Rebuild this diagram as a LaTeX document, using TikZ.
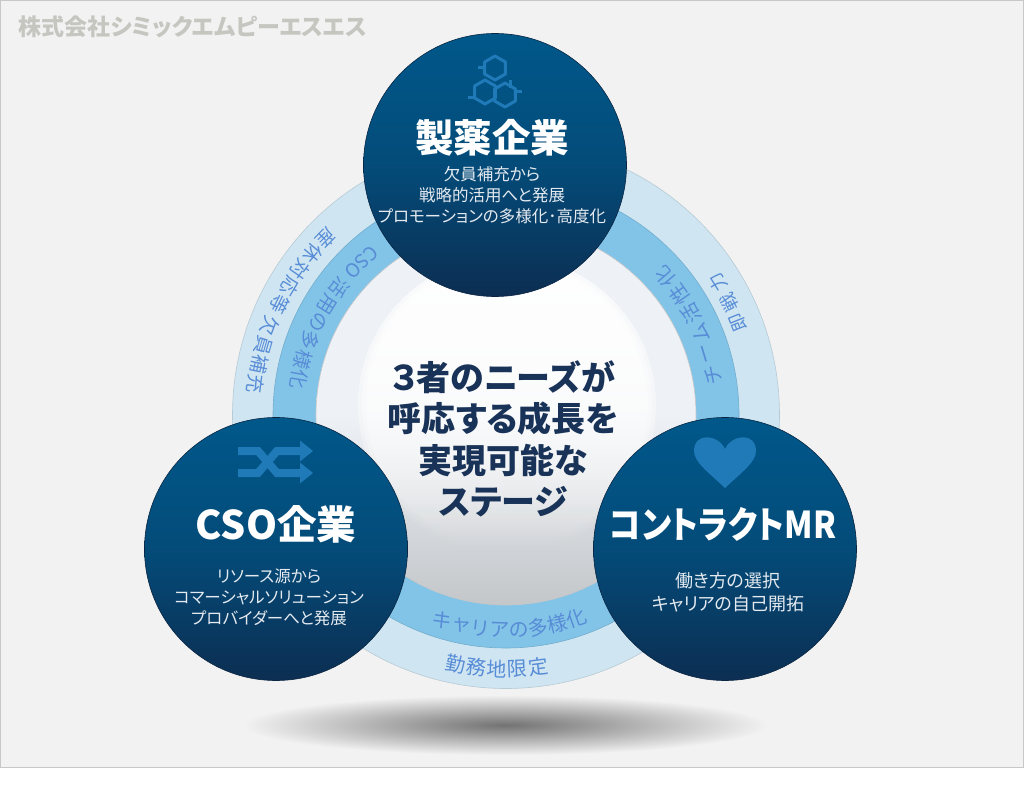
\documentclass[tikz,border=0pt]{standalone}
\usepackage{fontspec}
\usetikzlibrary{positioning}
\usetikzlibrary{arrows.meta}
\usetikzlibrary{fadings}
\newfontfamily\jpfont[RawFeature=+palt]{Noto Sans CJK JP}
\newfontfamily\ringfont{Noto Sans CJK JP}
\definecolor{pagebg}{RGB}{242,242,242}
\definecolor{pageline}{RGB}{200,200,200}
\definecolor{logogray}{RGB}{198,198,193}
\definecolor{ringouter}{RGB}{207,230,242}
\definecolor{ringmid}{RGB}{130,196,232}
\definecolor{ringtext}{RGB}{88,140,214}
\definecolor{disctop}{RGB}{0,88,138}
\definecolor{discbottom}{RGB}{12,46,82}
\definecolor{iconblue}{RGB}{32,122,184}
\definecolor{navy}{RGB}{24,50,88}
\definecolor{bodytext}{RGB}{228,234,240}
\definecolor{spheretop}{RGB}{238,241,245}
\definecolor{spherebottom}{RGB}{196,199,202}
\tikzfading[name=glowdown, top color=transparent!0, middle color=transparent!0, bottom color=transparent!100]
\newcommand{\ringword}[6]{\foreach \ringch [count=\ringn] in {#6} {
    \pgfmathsetmacro{\ringang}{#4+(\ringn-1)*#5}
    \node[ringchar=#2,rotate=\ringang+90] (#1\ringn) at (\ringang:#3pt) {\ringch};}}
\begin{document}
\begin{tikzpicture}[x=1pt,y=1pt,
        ring/.style={circle,inner sep=0pt,outer sep=0pt,line width=0.6pt},
        disc/.style={circle,inner sep=0pt,minimum size=263pt,draw=discbottom!80!black,line width=0.6pt,
          top color=disctop,bottom color=discbottom,middle color=disctop!70!discbottom},
        disctitle/.style={font=\jpfont\bfseries\fontsize{#1}{40}\selectfont,text=white},
        discbody/.style={font=\jpfont\fontsize{16.5}{21}\selectfont,text=bodytext,align=center},
        centretext/.style={font=\jpfont\bfseries\fontsize{34}{41.3}\selectfont,text=navy,align=center},
        icon/.style={draw=iconblue,line width=3pt,line join=round},
        ringchar/.style={font=\ringfont\fontsize{#1}{#1}\selectfont,text=ringtext,inner sep=0pt}]
        \useasboundingbox (0,0) rectangle (1024,788);
        \fill[white] (0,0) rectangle (1024,788);
        \draw[draw=pageline,fill=pagebg] (0,21) rectangle (1023.5,787.5);
        \node[anchor=west,font=\jpfont\bfseries\fontsize{23}{26}\selectfont,text=logogray] (logo) at (15,761) {株式会社シミックエムピーエスエス};

        \shade[inner color=black!55,outer color=pagebg] (505,63) ellipse [x radius=262pt,y radius=30pt];

        \node[ring,minimum size=547pt,draw=ringouter!88!black,fill=ringouter] (outerring) at (506,373) {};
        \node[ring,minimum size=466pt,draw=ringmid!88!black,fill=ringmid] (midring) at (506,373) {};
        \node[ring,minimum size=380pt,draw=black!22,top color=spheretop,bottom color=spherebottom,middle color=spheretop] (sphere) at (506,373) {};
        \foreach \glow in {141,145,149}
          \fill[white,opacity=0.75,path fading=glowdown] (507,383) circle [radius=\glow pt];

        \begin{scope}[shift={(506,373)}]
          \ringword{leavea}{19}{252}{135.6}{4.55}{産,休,対,応,等}
          \ringword{leaveb}{19}{252}{159.4}{4.5}{欠,員,補,充}
          \node[ringchar=19,rotate=223.5] (csoname) at (133.5:210pt) {CSO};
          \ringword{csouse}{19.5}{210}{142.7}{5.5}{活,用,の,多,様,化}
          \ringword{team}{20}{211}{10.9}{6.0}{チ,ー,ム,活,性,化}
          \ringword{ready}{18}{250}{21.8}{5.05}{即,戦,力}
          \ringword{career}{20}{215}{-107.3}{5.2}{キ,ャ,リ,ア,の,多,様,化}
          \ringword{office}{20}{254}{-101.5}{4.7}{勤,務,地,限,定}
        \end{scope}

        \node[centretext] (centre) at (503,349) {３者のニーズが\\呼応する成長を\\実現可能な\\ステージ};

        \node[disc] (pharma) at (495,623) {};
        \node[disc] (cso) at (276,239) {};
        \node[disc] (contract) at (725,239) {};

        \node[disctitle=38.5] (pharmatitle) at (492,650) {製薬企業};
        \node[discbody] (pharmabody) at (492,593) {欠員補充から\\戦略的活用へと発展\\プロモーションの多様化･高度化};
        \node[disctitle=39.5] (csotitle) at (276,264) {CSO企業};
        \node[discbody] (csobody) at (269,191) {リソース源から\\コマーシャルソリューション\\プロバイダーへと発展};
        \node[disctitle=37] (contracttitle) at (723,264) {\scalebox{0.88}[1]{コントラクトMR}};
        \node[discbody,font=\jpfont\fontsize{18}{23}\selectfont] (contractbody) at (728,196) {働き方の選択\\キャリアの自己開拓};

        \foreach \hx/\hy in {495/720,485/696,505/693}
          \draw[icon] (\hx,\hy) ++(30:12pt) -- ++(150:12pt) -- ++(210:12pt) -- ++(270:12pt) -- ++(330:12pt) -- ++(30:12pt) -- cycle;
        \draw[icon] (484,720) -- (478,720);
        \draw[icon] (475,690) -- (468,690);
        \draw[icon] (515,696) -- (522,696);
        \draw[icon] (510,700) -- (510,708);

        \draw[iconblue,line width=8pt,-{Triangle[width=20pt,length=13pt]}] (238,315) -- (258,315) -- (277,337) -- (313,337);
        \draw[iconblue,line width=8pt,-{Triangle[width=20pt,length=13pt]}] (238,337) -- (258,337) -- (277,315) -- (313,315);

        \fill[iconblue] (725,300) .. controls (708,316) and (694,326) .. (694,337)
          .. controls (694,356) and (718,354) .. (725,339)
          .. controls (732,354) and (756,356) .. (756,337)
          .. controls (756,326) and (742,316) .. (725,300) -- cycle;
    \end{tikzpicture}
\end{document}
